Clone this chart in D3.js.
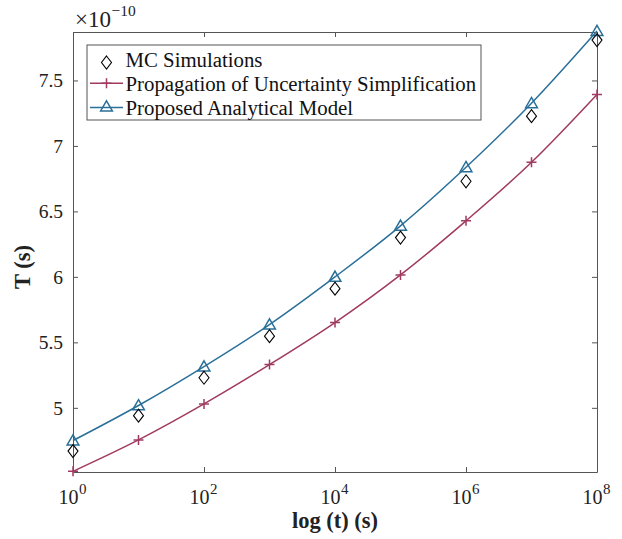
<!DOCTYPE html>
<html>
<head>
<meta charset="utf-8">
<script src="https://cdn.jsdelivr.net/npm/d3@7"></script>
<style>
  body { margin: 0; background: #fff; }
  svg text { font-family: "Times New Roman", "Liberation Serif", "Nimbus Roman", "DejaVu Serif", serif; }
</style>
</head>
<body>
<div id="chart"></div>
<script>
// time points (s), one per decade
const times = [1e0, 1e1, 1e2, 1e3, 1e4, 1e5, 1e6, 1e7, 1e8];
// T values in units of 1e-10 s
const mcSimulations = [4.67, 4.94, 5.23, 5.547, 5.91, 6.30, 6.73, 7.227, 7.808];
const propagationSimplification = [4.515, 4.755, 5.03, 5.33, 5.651, 6.015, 6.428, 6.875, 7.393];
const proposedModel = [4.75, 5.018, 5.315, 5.636, 6.0, 6.39, 6.837, 7.326, 7.877];
const xTicks = [1e0, 1e2, 1e4, 1e6, 1e8];
const yTicks = [5, 5.5, 6, 6.5, 7, 7.5];

const width = 622;
const height = 539;
const margin = { top: 32, right: 25, bottom: 67, left: 73 };
const innerWidth = width - margin.left - margin.right;
const innerHeight = height - margin.top - margin.bottom;

const blue = "#2a6f98";
const red = "#a03a60";
const axisColor = "#555";
const textColor = "#222";

const svg = d3.select("#chart")
  .append("svg")
  .attr("width", width)
  .attr("height", height);

const chart = svg.append("g")
  .attr("transform", `translate(${margin.left}, ${margin.top})`);

const x = d3.scaleLog()
  .domain([1e0, 1e8])
  .range([0, innerWidth]);

const y = d3.scaleLinear()
  .domain([4.51, 7.87])
  .range([innerHeight, 0]);

const exponent = (t) => Math.round(Math.log10(t));

// axes: bottom/left with labels, top/right ticks only, all ticks inward
const styleAxis = (g) => {
  g.attr("font-family", null);
  g.select(".domain").attr("stroke", axisColor).attr("stroke-width", 1);
  g.selectAll(".tick line").attr("stroke", axisColor);
};

const xAxis = chart.append("g")
  .attr("transform", `translate(0, ${innerHeight})`)
  .call(d3.axisBottom(x).tickValues(xTicks).tickSizeInner(-5).tickSizeOuter(0).tickFormat(""))
  .call(styleAxis);

// base "10" and its exponent as two separate texts
xAxis.selectAll(".tick").append("text")
  .attr("x", 5)
  .attr("y", 32)
  .attr("fill", textColor)
  .attr("font-size", 20)
  .attr("text-anchor", "end")
  .text("10");

xAxis.selectAll(".tick").append("text")
  .attr("x", 5.5)
  .attr("y", 22)
  .attr("fill", textColor)
  .attr("font-size", 15)
  .attr("text-anchor", "start")
  .text((d) => exponent(d));

chart.append("g")
  .call(d3.axisTop(x).tickValues(xTicks).tickSizeInner(-5).tickSizeOuter(0).tickFormat(""))
  .call(styleAxis);

chart.append("g")
  .call(d3.axisLeft(y).tickValues(yTicks).tickSizeInner(-5).tickSizeOuter(0).tickPadding(10).tickFormat(d3.format("")))
  .call(styleAxis)
  .call((g) => g.selectAll(".tick text").attr("fill", textColor).attr("font-size", 19.5));

chart.append("g")
  .attr("transform", `translate(${innerWidth}, 0)`)
  .call(d3.axisRight(y).tickValues(yTicks).tickSizeInner(-5).tickSizeOuter(0).tickFormat(""))
  .call(styleAxis);

// exponent label above the y axis
svg.append("text")
  .attr("x", 111)
  .attr("y", 27)
  .attr("fill", textColor)
  .attr("font-size", 23)
  .attr("text-anchor", "end")
  .text("×10");

svg.append("text")
  .attr("x", 111.5)
  .attr("y", 16)
  .attr("fill", textColor)
  .attr("font-size", 15.5)
  .text("−10");

// axis titles
svg.append("text")
  .attr("x", margin.left + innerWidth / 2)
  .attr("y", 528)
  .attr("text-anchor", "middle")
  .attr("font-size", 22.5)
  .attr("font-weight", "bold")
  .attr("fill", textColor)
  .text("log (t) (s)");

svg.append("text")
  .attr("transform", `translate(30, ${margin.top + innerHeight / 2 + 15}) rotate(-90)`)
  .attr("text-anchor", "middle")
  .attr("font-size", 22.5)
  .attr("font-weight", "bold")
  .attr("fill", textColor)
  .text("T (s)");

const line = d3.line()
  .x((d) => x(d.t))
  .y((d) => y(d.v))
  .curve(d3.curveMonotoneX);

const toPoints = (values) => values.map((v, i) => ({ t: times[i], v }));

const triangle = d3.symbol().type(d3.symbolTriangle).size(60);
const cross = "M-5,0H5M0,-5V5";
const diamond = "M0,-6.5L5,0L0,6.5L-5,0Z";

// Propagation of Uncertainty Simplification
chart.append("path")
  .datum(toPoints(propagationSimplification))
  .attr("fill", "none")
  .attr("stroke", red)
  .attr("stroke-width", 1.5)
  .attr("d", line);

chart.selectAll(".plus")
  .data(toPoints(propagationSimplification))
  .join("path")
  .attr("transform", (d) => `translate(${x(d.t)}, ${y(d.v)})`)
  .attr("d", cross)
  .attr("stroke", red)
  .attr("stroke-width", 1.5);

// Proposed Analytical Model
chart.append("path")
  .datum(toPoints(proposedModel))
  .attr("fill", "none")
  .attr("stroke", blue)
  .attr("stroke-width", 1.5)
  .attr("d", line);

chart.selectAll(".tri")
  .data(toPoints(proposedModel))
  .join("path")
  .attr("transform", (d) => `translate(${x(d.t)}, ${y(d.v) + 1})`)
  .attr("d", triangle)
  .attr("fill", "none")
  .attr("stroke", blue)
  .attr("stroke-width", 1.5);

// MC Simulations
chart.selectAll(".dia")
  .data(toPoints(mcSimulations))
  .join("path")
  .attr("transform", (d) => `translate(${x(d.t)}, ${y(d.v)})`)
  .attr("d", diamond)
  .attr("fill", "none")
  .attr("stroke", "#000")
  .attr("stroke-width", 1.1);

// legend
const legendItems = [
  { label: "MC Simulations", marker: diamond, color: "#000", line: false, dy: -4.5 },
  { label: "Propagation of Uncertainty Simplification", marker: cross, color: red, line: true, dy: -7.5 },
  { label: "Proposed Analytical Model", marker: triangle(), color: blue, line: true, dy: -7 },
];

const legend = svg.append("g").attr("transform", "translate(87, 45)");

legend.append("rect")
  .attr("width", 394)
  .attr("height", 75)
  .attr("fill", "#fff")
  .attr("stroke", axisColor)
  .attr("stroke-width", 1);

legendItems.forEach((item, i) => {
  const row = legend.append("g").attr("transform", `translate(0, ${22 + i * 23.8})`);

  if (item.line) {
    row.append("line")
      .attr("x1", 3)
      .attr("x2", 36)
      .attr("y1", item.dy)
      .attr("y2", item.dy)
      .attr("stroke", item.color)
      .attr("stroke-width", 1.5);
  }

  row.append("path")
    .attr("transform", `translate(19.5, ${item.dy})`)
    .attr("d", item.marker)
    .attr("fill", "none")
    .attr("stroke", item.color)
    .attr("stroke-width", item.line ? 1.5 : 1.1);

  row.append("text")
    .attr("x", 38.5)
    .attr("y", 0)
    .attr("font-size", 20.8)
    .attr("fill", "#111")
    .text(item.label);
});
</script>
</body>
</html>
